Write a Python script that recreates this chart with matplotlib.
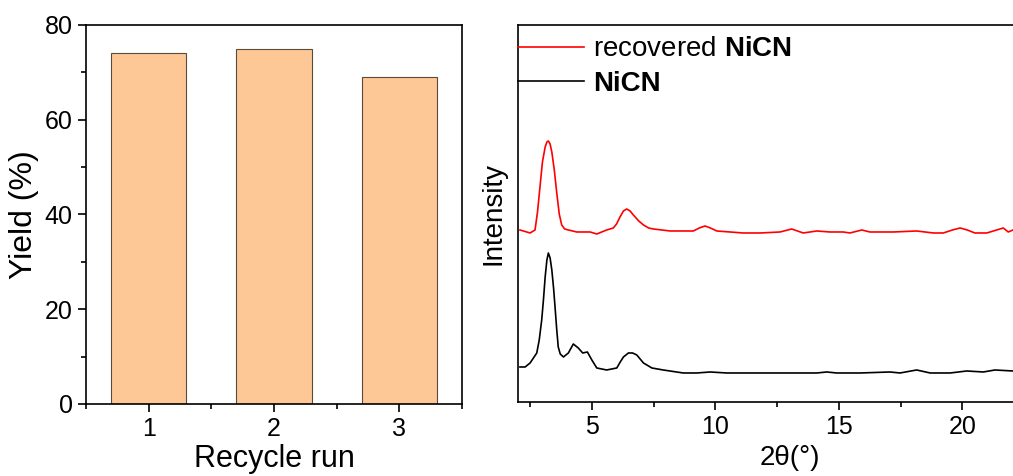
import numpy as np
import matplotlib
matplotlib.use('Agg')
import matplotlib.pyplot as plt
from matplotlib.ticker import MultipleLocator

plt.rcParams['font.family'] = ['Liberation Sans', 'DejaVu Sans']
plt.rcParams['mathtext.fontset'] = 'custom'
plt.rcParams['mathtext.rm'] = 'Liberation Sans'
plt.rcParams['mathtext.bf'] = 'Liberation Sans:bold'
plt.rcParams['mathtext.it'] = 'Liberation Sans:italic'

# recycling yields
runs = [1, 2, 3]
yields = [74, 75, 69]

# XRD patterns (2theta in degrees, intensity in a.u., offset included)
tt_rec = [2.09, 2.50, 2.70, 2.80, 2.90, 3.00, 3.11, 3.18, 3.24, 3.31, 3.38, 3.48,
          3.58, 3.68, 3.78, 3.90, 4.05, 4.39, 4.93,
          5.20, 5.60, 5.87, 6.00, 6.14, 6.28, 6.41, 6.55, 6.68, 6.90, 7.09, 7.30,
          7.49, 8.17, 9.11, 9.35, 9.58, 9.80, 10.06,
          11.13, 11.81, 12.62, 13.09, 13.56, 14.11, 14.64, 15.18, 15.45, 15.93,
          16.26, 17.21, 18.15, 18.83, 19.23, 19.60, 19.91, 20.20, 20.51, 20.99,
          21.39, 21.66, 21.86, 22.05]
int_rec = [172, 169, 172, 190, 215, 240, 255, 260, 261, 258, 250, 232,
           209, 188, 177, 173, 172, 170, 170,
           168, 172, 174, 178, 185, 191, 193, 191, 187, 181, 177, 174,
           173, 171, 171, 174, 176, 174, 171,
           169, 169, 170, 173, 169, 171, 170, 170, 169, 172,
           170, 170, 171, 169, 169, 172, 174, 172, 169, 169,
           172, 174, 170, 172]

tt_ref = [2.09, 2.30, 2.50, 2.77, 2.87, 2.97, 3.04, 3.11, 3.18, 3.24, 3.31, 3.38,
          3.45, 3.51, 3.58, 3.64, 3.72, 3.85, 4.05,
          4.25, 4.45, 4.63, 4.82, 5.00, 5.20, 5.60, 6.01, 6.15, 6.28, 6.48, 6.65,
          6.82, 7.09, 7.43, 7.89, 8.70, 9.25, 9.79, 10.46, 11.81, 13.30, 14.11,
          14.51, 14.91, 15.32, 15.86, 17.07, 17.48, 18.15, 18.70, 19.51, 20.18,
          20.85, 21.32, 22.05]
int_ref = [35, 35, 39, 49, 62, 82, 102, 125, 142, 149, 144, 132,
           114, 95, 72, 55, 48, 45, 49,
           58, 54, 49, 50, 42, 34, 32, 34, 40, 45, 49, 49,
           47, 39, 34, 32, 29, 29, 30, 29, 29, 29, 29,
           30, 29, 29, 29, 30, 29, 32, 29, 29, 31,
           30, 32, 31]

fig = plt.figure(figsize=(10.13, 4.76), dpi=100)

# left: yield per recycle run
ax1 = fig.add_axes([0.0849, 0.1513, 0.3712, 0.7962])
ax1.bar(runs, yields, width=0.6, color='#FDC895', edgecolor='#5a4a3c', linewidth=0.8)
ax1.set_xlim(0.5, 3.5)
ax1.set_ylim(0, 80)
ax1.set_xticks(runs)
ax1.set_yticks([0, 20, 40, 60, 80])
ax1.xaxis.set_minor_locator(MultipleLocator(0.5))
ax1.yaxis.set_minor_locator(MultipleLocator(10))
ax1.tick_params(which='major', direction='out', length=6, width=1.2, labelsize=18)
ax1.tick_params(which='minor', direction='out', length=3.5, width=1.2)
ax1.set_xlabel('Recycle run', fontsize=22, labelpad=2)
ax1.set_ylabel('Yield (%)', fontsize=23, labelpad=4)
for s in ax1.spines.values():
    s.set_linewidth(1.2)

# right: XRD of fresh and recovered catalyst
ax2 = fig.add_axes([0.5111, 0.1555, 0.5364, 0.7920])
ax2.plot(tt_rec, int_rec, color='red', linewidth=1.2, label=r'recovered $\mathbf{NiCN}$')
ax2.plot(tt_ref, int_ref, color='black', linewidth=1.2, label='NiCN')
ax2.set_xlim(2, 24)
ax2.set_ylim(0, 377)
ax2.set_xticks([5, 10, 15, 20])
ax2.set_yticks([])
ax2.xaxis.set_minor_locator(MultipleLocator(2.5))
ax2.tick_params(which='major', direction='out', length=6, width=1.2, labelsize=18)
ax2.tick_params(which='minor', direction='out', length=3.5, width=1.2)
ax2.set_xlabel('2θ(°)', fontsize=20, labelpad=4)
ax2.set_ylabel('Intensity', fontsize=20, labelpad=8)
for s in ax2.spines.values():
    s.set_linewidth(1.2)

leg = ax2.legend(loc='upper left', frameon=False, fontsize=20, handlelength=2.4,
                 handletextpad=0.3, labelspacing=0.3, borderaxespad=0.0,
                 borderpad=0.0, bbox_to_anchor=(0.0, 0.97))
leg.get_texts()[1].set_fontweight('bold')

fig.savefig('out.png', dpi=100)
